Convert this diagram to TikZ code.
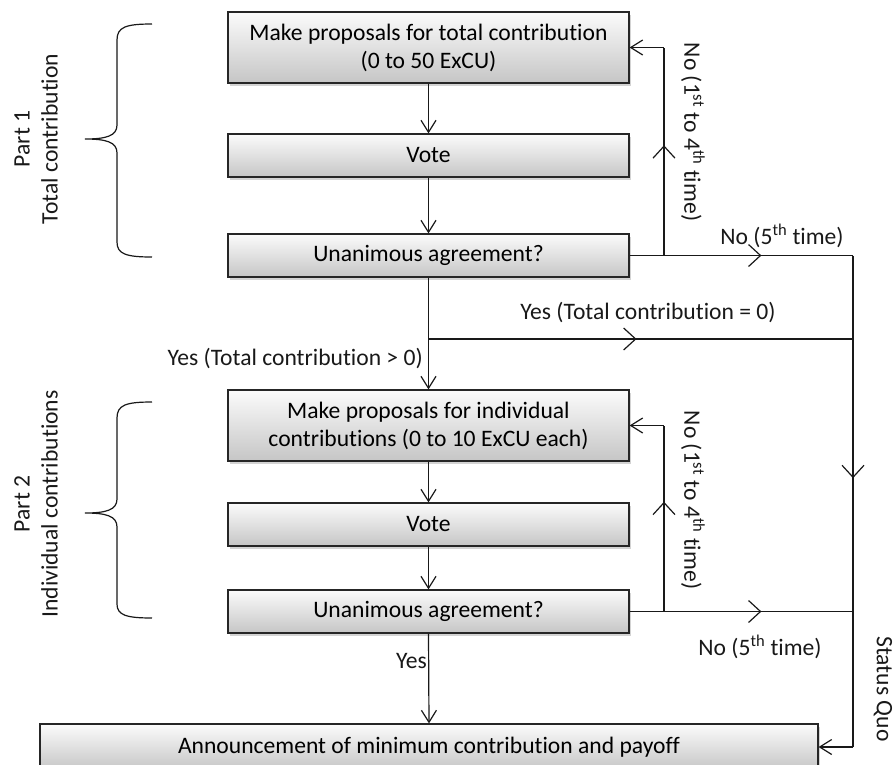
\documentclass[tikz,border=0pt]{standalone}
\usepackage{fontspec}
\setmainfont[Ligatures={NoCommon,NoRequired,NoContextual}]{Carlito}
\usetikzlibrary{arrows.meta,shadows,decorations.markings}
\newcommand\figfont{\fontsize{23.6}{28}\selectfont}
\begin{document}
\begin{tikzpicture}[x=1pt,y=-1pt,
  box/.style={draw=black!85, line width=1.2pt, top color=gray!3, bottom color=gray!45,
    drop shadow={shadow xshift=2pt,shadow yshift=-3pt,opacity=0.35},
    minimum width=401pt, inner sep=0pt, align=center, font=\figfont},
  conn/.style={line width=1.2pt, draw=black!90},
  endarrow/.style={-{Straight Barb[length=12pt,width=15pt]}},
  midarrow/.style={postaction={decorate},decoration={markings,
    mark=at position #1 with {\arrow{Straight Barb[length=12pt,width=22pt]}}}},
  lbl/.style={font=\figfont, inner sep=0pt, text=black!90},
  brace/.style={line width=1.2pt, draw=black!90}]
\useasboundingbox (0,0) rectangle (895,764);

% boxes
\node[box, minimum height=71pt] (b1) at (428.5,47.5) {Make proposals for total contribution\\(0 to 50 ExCU)};
\node[box, minimum height=43pt] (b2) at (428.5,155.5) {Vote};
\node[box, minimum height=43pt] (b3) at (428.5,255.5) {Unanimous agreement?};
\node[box, minimum height=71pt] (b4) at (428.5,425.5) {Make proposals for individual\\contributions (0 to 10 ExCU each)};
\node[box, minimum height=43pt] (b5) at (428.5,524.5) {Vote};
\node[box, minimum height=43pt] (b6) at (428.5,611.5) {Unanimous agreement?};
\node[box, minimum height=46pt, minimum width=778pt] (b7) at (429,747) {Announcement of minimum contribution and payoff};

% junction coordinates
\coordinate (l1b) at (664,255.5);
\coordinate (l1t) at (664,47.5);
\coordinate (r1) at (853,255.5);
\coordinate (j1) at (428.5,339);
\coordinate (r2) at (853,339);
\coordinate (l2b) at (664,611.5);
\coordinate (l2t) at (664,425.5);
\coordinate (r4) at (853,611.5);
\coordinate (r3) at (853,747);

% part 1 connectors
\draw[conn,endarrow] (b1) -- (b2);
\draw[conn,endarrow] (b2) -- (b3);
\draw[conn,midarrow=0.59] (b3.east) -- (r1);
\draw[conn,midarrow=0.53] (l1b) -- (l1t);
\draw[conn,endarrow] (l1t) -- (b1.east);
\draw[conn] (b3.south) -- (j1);
\draw[conn,endarrow] (j1) -- (b4.north);
\draw[conn,midarrow=0.49] (j1) -- (r2);
\draw[conn,midarrow=0.453] (r1) -- (r3);
\draw[conn,endarrow] (r3) -- (b7.east);

% part 2 connectors
\draw[conn,endarrow] (b4) -- (b5);
\draw[conn,endarrow] (b5) -- (b6);
\draw[conn,midarrow=0.59] (b6.east) -- (r4);
\draw[conn,midarrow=0.59] (l2b) -- (l2t);
\draw[conn,endarrow] (l2t) -- (b4.east);
\draw[conn,endarrow] (b6.south) -- (b7.north);

% labels
\node[lbl, rotate=-90] (n1) at (693,132) {No (1\textsuperscript{st} to 4\textsuperscript{th} time)};
\node[lbl] (n2) at (782,236) {No (5\textsuperscript{th} time)};
\node[lbl] (y0) at (648,312) {Yes (Total contribution = 0)};
\node[lbl, anchor=east] (yp) at (423,358) {Yes (Total contribution > 0)};
\node[lbl, rotate=-90] (n3) at (693,500) {No (1\textsuperscript{st} to 4\textsuperscript{th} time)};
\node[lbl] (n4) at (760,647) {No (5\textsuperscript{th} time)};
\node[lbl, anchor=east] (yy) at (427,661) {Yes};
\node[lbl, rotate=-90] (sq) at (883,689) {Status Quo};

% braces and part labels
\draw[brace] (152,24) .. controls (126,24) and (117,27) .. (117,40) -- (117,125)
  .. controls (117,136) and (106,139) .. (85,139)
  .. controls (106,139) and (117,142) .. (117,153) -- (117,242)
  .. controls (117,254) and (126,257) .. (152,257);
\draw[brace] (152,402) .. controls (126,402) and (117,405) .. (117,418) -- (117,499)
  .. controls (117,510) and (106,513) .. (85,513)
  .. controls (106,513) and (117,516) .. (117,527) -- (117,604)
  .. controls (117,615) and (126,618) .. (152,618);
\node[lbl, rotate=90, align=center] (p1) at (36,139) {Part 1\\Total contribution};
\node[lbl, rotate=90, align=center] (p2) at (36,504) {Part 2\\Individual contributions};
\end{tikzpicture}
\end{document}
